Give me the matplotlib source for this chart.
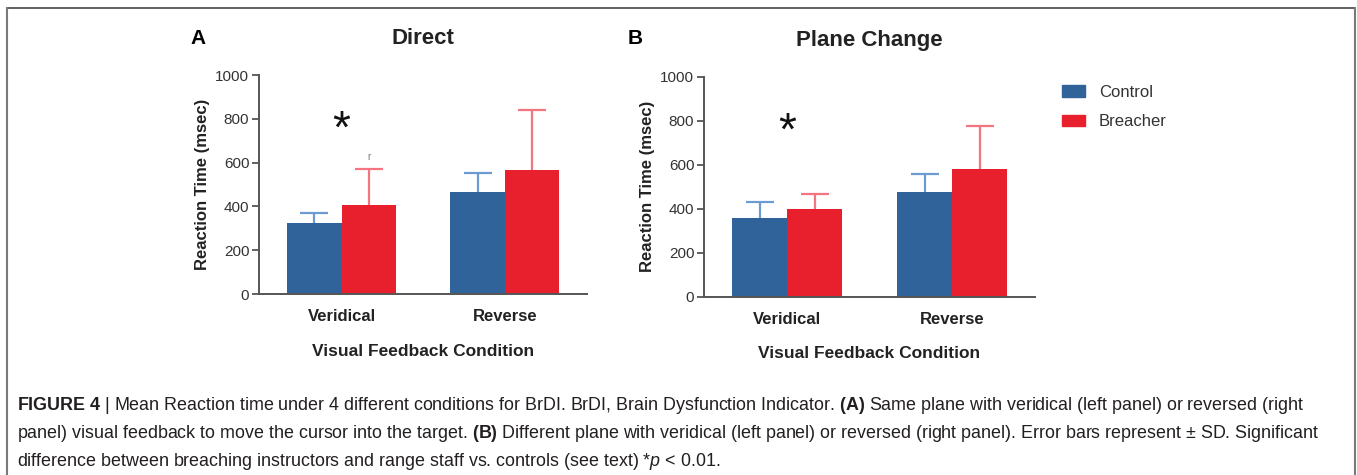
import matplotlib.pyplot as plt
import numpy as np
from matplotlib.patches import Patch
from matplotlib.lines import Line2D

# data (msec)
conditions = ['Veridical', 'Reverse']
direct_control = [323, 467]
direct_control_sd = [45, 87]
direct_breacher = [406, 566]
direct_breacher_sd = [163, 274]
plane_control = [356, 477]
plane_control_sd = [73, 81]
plane_breacher = [399, 580]
plane_breacher_sd = [68, 196]
star_level = 745

blue = '#2f6399'
red = '#e8202e'
blue_err = '#6b9bd0'
red_err = '#f27580'
axis_col = '#555555'

plt.rcParams['font.family'] = ['Liberation Sans', 'DejaVu Sans']
plt.rcParams['mathtext.fontset'] = 'custom'
plt.rcParams['mathtext.rm'] = 'Liberation Sans'
plt.rcParams['mathtext.bf'] = 'Liberation Sans:bold'
plt.rcParams['mathtext.it'] = 'Liberation Sans:italic'

fig = plt.figure(figsize=(13.57, 4.75), dpi=100)
axA = fig.add_axes([0.1909, 0.381, 0.2417, 0.461])
axB = fig.add_axes([0.5188, 0.3754, 0.2439, 0.463])

w = 0.333
x = np.arange(len(conditions))


def panel(ax, ctrl, ctrl_sd, br, br_sd, title):
    ax.bar(x - w / 2, ctrl, w, color=blue, zorder=3)
    ax.bar(x + w / 2, br, w, color=red, zorder=3)
    # symmetric bars drawn under the columns, so only the upper half shows
    ax.errorbar(x - w / 2, ctrl, yerr=ctrl_sd, fmt='none',
                ecolor=blue_err, elinewidth=1.6, capsize=10, capthick=1.6, zorder=2)
    ax.errorbar(x + w / 2, br, yerr=br_sd, fmt='none',
                ecolor=red_err, elinewidth=1.6, capsize=10, capthick=1.6, zorder=2)
    ax.set_xlim(-0.505, 1.503)
    ax.set_ylim(0, 1000)
    ax.set_yticks(range(0, 1001, 200))
    ax.set_xticks(x)
    ax.set_xticklabels(conditions, fontsize=12, fontweight='bold', color='#222222')
    ax.tick_params(axis='x', length=0, pad=11)
    ax.tick_params(axis='y', length=5, width=1.3, color=axis_col, labelsize=11,
                   labelcolor='#333333', pad=2)
    for s in ['top', 'right']:
        ax.spines[s].set_visible(False)
    for s in ['left', 'bottom']:
        ax.spines[s].set_color(axis_col)
        ax.spines[s].set_linewidth(1.4)
    ax.spines['bottom'].set_zorder(4)
    ax.set_ylabel('Reaction Time (msec)', fontsize=12, fontweight='bold',
                  color='#222222', labelpad=4)
    ax.set_xlabel('Visual Feedback Condition', fontsize=12.5, fontweight='bold',
                  color='#222222', labelpad=14)
    ax.set_title(title, fontsize=16, fontweight='bold', color='#222222', pad=22)
    ax.text(0, star_level, '*', fontsize=33, ha='center', va='center', color='#111111')


panel(axA, direct_control, direct_control_sd, direct_breacher, direct_breacher_sd, 'Direct')
panel(axB, plane_control, plane_control_sd, plane_breacher, plane_breacher_sd, 'Plane Change')

# tiny mark above breacher veridical bar in panel A
axA.text(x[0] + w / 2, 626, 'r', fontsize=7, ha='center', va='center', color='#777777')

fig.text(198 / 1357, 1 - 38 / 475, 'A', fontsize=15, fontweight='bold', ha='center', va='center')
fig.text(635 / 1357, 1 - 38 / 475, 'B', fontsize=15, fontweight='bold', ha='center', va='center')

handles = [Patch(color=blue), Patch(color=red)]
fig.legend(handles, ['Control', 'Breacher'], loc='upper left',
           bbox_to_anchor=(1047 / 1357, 1 - 70 / 475), frameon=False, fontsize=12,
           handlelength=1.4, handleheight=0.7, labelspacing=0.85, handletextpad=0.8,
           labelcolor='#333333')

# caption
caption = [
    r'$\mathbf{FIGURE\ 4}$ | Mean Reaction time under 4 different conditions for BrDI. BrDI, Brain Dysfunction Indicator. $\mathbf{(A)}$ Same plane with veridical (left panel) or reversed (right',
    r'panel) visual feedback to move the cursor into the target. $\mathbf{(B)}$ Different plane with veridical (left panel) or reversed (right panel). Error bars represent ± SD. Significant',
    r'difference between breaching instructors and range staff vs. controls (see text) *$\mathit{p}$ < 0.01.',
]
cap_y = [405, 433, 461]
for line, yy in zip(caption, cap_y):
    fig.text(17 / 1357, 1 - yy / 475, line, fontsize=12.9, color='#231f20', ha='left', va='center')

# figure frame
fc = '#7a7a7a'
fig.add_artist(Line2D([7 / 1357, 1355 / 1357], [1 - 8 / 475, 1 - 8 / 475], color='#444444', lw=1.2,
                      transform=fig.transFigure))
fig.add_artist(Line2D([7 / 1357, 7 / 1357], [0, 1 - 8 / 475], color=fc, lw=1.5, transform=fig.transFigure))
fig.add_artist(Line2D([1355 / 1357, 1355 / 1357], [0, 1 - 8 / 475], color=fc, lw=1.5,
                      transform=fig.transFigure))

fig.savefig('out.png', dpi=100)
